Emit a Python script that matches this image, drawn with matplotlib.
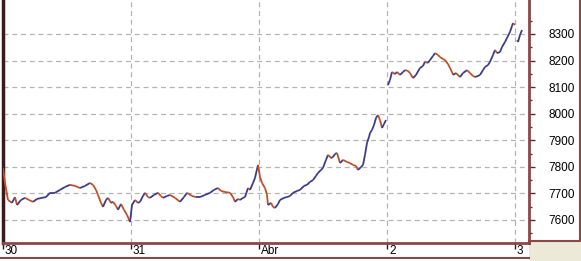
import matplotlib
matplotlib.use("Agg")
import matplotlib.pyplot as plt
from matplotlib.collections import LineCollection
from matplotlib.patches import Rectangle
from matplotlib.lines import Line2D
from matplotlib.transforms import ScaledTranslation
import numpy as np

plt.rcParams['font.family'] = ['Liberation Sans', 'DejaVu Sans']

# bar index (one bar per pixel column) and price
# session 30 -> Abr (continuous)
bars_a = [0, 2, 5, 9, 12, 14, 18, 22, 26, 30, 34, 39, 43, 47, 52, 57, 62, 67, 72, 77,
          82, 87, 90, 93, 95, 98, 100, 103, 105, 108, 110, 113, 115, 118, 121, 124, 127,
          129, 132, 135, 137, 140, 142, 145, 147, 151, 155, 158, 160, 164, 167, 172, 177,
          181, 184, 189, 193, 197, 202, 207, 211, 215, 218, 222, 227, 230, 232, 235, 237,
          240, 242, 245, 247, 250, 252, 255, 257, 259, 262, 264, 265, 268, 270, 272, 275,
          277, 281, 284, 287, 290, 294, 297, 301, 304, 307, 310, 313, 315, 318, 320, 323,
          325, 328, 330, 332, 334, 337, 340, 344, 347, 350, 353, 355, 358, 360, 362, 364,
          366, 367, 369, 371, 373, 375, 377, 379, 381, 383]
price_a = [7796, 7739, 7675, 7664, 7686, 7656, 7675, 7683, 7675, 7668, 7679, 7683, 7686,
           7702, 7702, 7713, 7724, 7732, 7728, 7720, 7728, 7739, 7732, 7713, 7694, 7664,
           7649, 7675, 7683, 7664, 7668, 7653, 7638, 7660, 7638, 7619, 7592, 7656, 7675,
           7664, 7668, 7690, 7702, 7686, 7683, 7694, 7702, 7690, 7683, 7690, 7694, 7683,
           7668, 7686, 7702, 7690, 7686, 7686, 7694, 7702, 7713, 7720, 7709, 7705, 7702,
           7686, 7668, 7679, 7675, 7683, 7686, 7720, 7713, 7739, 7758, 7807, 7762, 7739,
           7720, 7694, 7656, 7664, 7649, 7645, 7660, 7675, 7683, 7686, 7690, 7702, 7709,
           7713, 7728, 7732, 7743, 7750, 7766, 7777, 7788, 7796, 7826, 7845, 7833, 7837,
           7848, 7852, 7814, 7826, 7818, 7814, 7807, 7803, 7788, 7799, 7807, 7845, 7890,
           7912, 7927, 7939, 7957, 7984, 7995, 7976, 7946, 7961, 7976]
# session 2
bars_b = [385, 387, 389, 392, 394, 397, 400, 402, 405, 407, 410, 413, 417, 420, 422, 425,
          427, 430, 432, 435, 437, 440, 442, 445, 447, 449, 450, 453, 457, 460, 464, 467,
          470, 472, 475, 477, 480, 482, 485, 487, 490, 492, 494, 497, 499, 502, 504, 507,
          509, 510, 512]
price_b = [8108, 8127, 8157, 8149, 8157, 8146, 8157, 8164, 8161, 8153, 8134, 8146, 8172,
           8180, 8195, 8191, 8202, 8217, 8228, 8221, 8213, 8206, 8202, 8187, 8172, 8157,
           8146, 8153, 8138, 8153, 8164, 8153, 8142, 8138, 8142, 8146, 8164, 8176, 8183,
           8195, 8221, 8240, 8228, 8232, 8251, 8270, 8285, 8308, 8330, 8341, 8334]
# session 3
bars_c = [514, 515, 517, 519]
price_c = [8277, 8270, 8296, 8315]

tick_pos = [0, 128, 256, 384, 512]
tick_labels = ["30", "31", "Abr", "2", "3"]

W, H = 581, 261
brown = "#8c4646"
up_col = "#3c3c8c"
down_col = "#c0502a"

fig = plt.figure(figsize=(W / 100, H / 100), dpi=100, facecolor="#ECE9D8")

# white backgrounds behind the axes
fig.patches.append(Rectangle((0, 0), 529 / W, 1, transform=fig.transFigure,
                             facecolor="white", edgecolor="none", zorder=-2))
fig.patches.append(Rectangle((529 / W, 20 / H), 51 / W, 241 / H, transform=fig.transFigure,
                             facecolor="white", edgecolor="none", zorder=-2))
# panel borders
fig.lines.append(Line2D([529 / W, 580 / W, 580 / W], [20 / H, 20 / H, 1],
                        transform=fig.transFigure, color=brown, lw=1.5, zorder=-1))
fig.lines.append(Line2D([0, 529 / W], [3 / H, 3 / H], transform=fig.transFigure,
                        color=brown, lw=1.5, zorder=-1))

ax = fig.add_axes([3 / W, 18 / H, 526 / W, 243 / H])
ax.patch.set_alpha(0)

for xs, ys in [(bars_a, price_a), (bars_b, price_b), (bars_c, price_c)]:
    pts = np.column_stack([xs, ys])
    segs = np.stack([pts[:-1], pts[1:]], axis=1)
    cols = [up_col if b >= a else down_col for a, b in zip(ys[:-1], ys[1:])]
    ax.add_collection(LineCollection(segs, colors=cols, linewidths=1.3, zorder=3))

ax.set_xlim(0, 526)
ax.set_ylim(7513, 8428)

ax.yaxis.tick_right()
ax.set_yticks(range(7600, 8301, 100))
ax.set_yticks(range(7550, 8401, 100), minor=True)
ax.tick_params(axis="y", which="major", length=4, width=1, color="#5a2a2a",
               pad=10, labelsize=8.5, direction="out")
ax.tick_params(axis="y", which="minor", length=2.5, width=1, color="#5a2a2a")

ax.set_xticks(tick_pos, tick_labels)
ax.tick_params(axis="x", length=4, width=1, color="#202020", pad=-2.5, labelsize=8.5)
for lab in ax.get_xticklabels():
    lab.set_ha("left")
    lab.set_transform(lab.get_transform() + ScaledTranslation(2 / 100, 0, fig.dpi_scale_trans))

ax.grid(True, color="#b4b4b4", linestyle=(0, (4, 3)), linewidth=0.9)
ax.set_axisbelow(True)

ax.spines["top"].set_visible(False)
ax.spines["right"].set_color(brown)
ax.spines["right"].set_linewidth(2)
ax.spines["bottom"].set_color(brown)
ax.spines["bottom"].set_linewidth(2)
ax.spines["left"].set_color("#3a1a1a")
ax.spines["left"].set_linewidth(2.5)

fig.savefig("out.png", dpi=100, facecolor=fig.get_facecolor())
